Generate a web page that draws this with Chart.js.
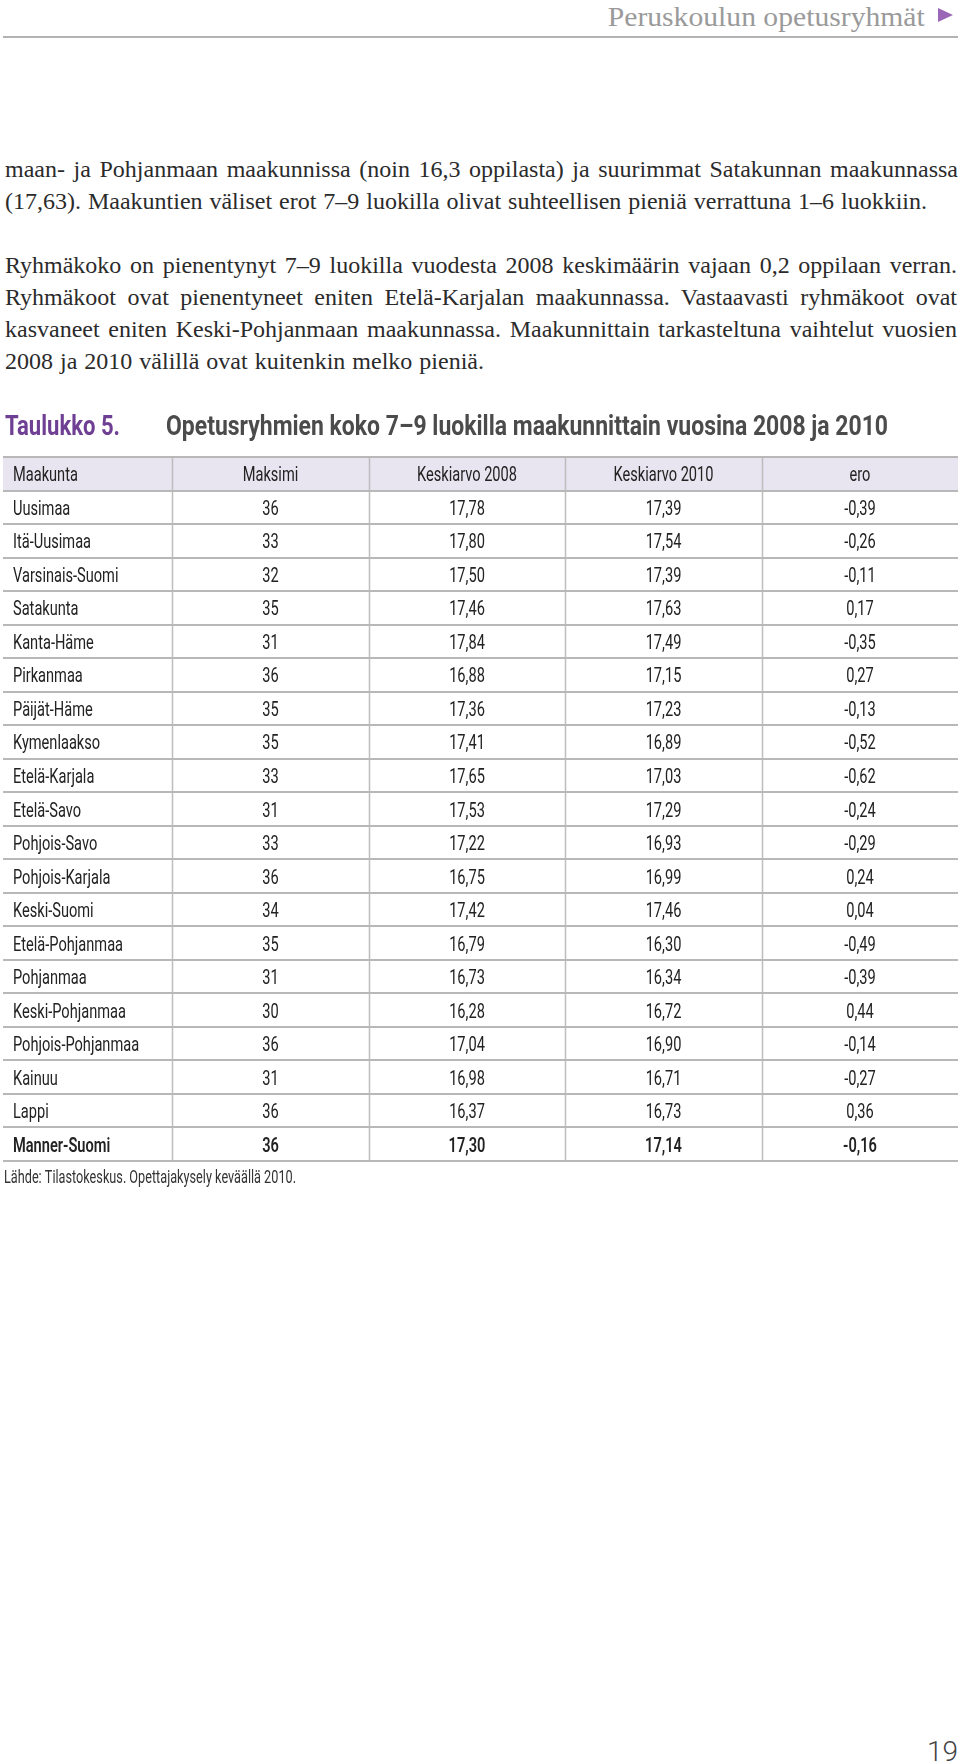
<!DOCTYPE html>
<html lang="fi">
<head>
<meta charset="utf-8">
<script src="https://cdn.jsdelivr.net/npm/chart.js@4.4.0/dist/chart.umd.min.js"></script>
<style>
  body { margin: 0; background: #fff; }
  #page { position: relative; width: 960px; height: 1764px; overflow: hidden; }
  .line {
    position: absolute; left: 5px; white-space: nowrap;
    font-family: "Liberation Serif", "DejaVu Serif", serif;
    font-size: 24px; line-height: 32px; color: #2b2b2b;
  }
  #runhead {
    position: absolute; right: 35px; top: 2px; white-space: nowrap;
    font-family: "Liberation Serif", "DejaVu Serif", serif;
    font-size: 27px; line-height: 30px; color: #9a9a9a;
    transform-origin: right center;
  }
  #arrow {
    position: absolute; left: 938px; top: 8px; width: 0; height: 0;
    border-left: 15px solid #9b68b8;
    border-top: 7.5px solid transparent; border-bottom: 7.5px solid transparent;
  }
  #rule { position: absolute; left: 3px; top: 36px; width: 955px; height: 2px; background: #b3b3b3; }
  #pageno {
    position: absolute; right: 2px; top: 1738px;
    font-family: Roboto, "Open Sans", sans-serif; font-weight: 300;
    font-size: 28px; line-height: 28px; color: #444;
  }
  #table { position: absolute; left: 0; top: 400px; }
</style>
</head>
<body>
<div id="page">
  <span id="runhead">Peruskoulun opetusryhmät</span>
  <div id="arrow"></div>
  <div id="rule"></div>

  <div class="line" data-w="953" data-b="177">maan- ja Pohjanmaan maakunnissa (noin 16,3 oppilasta) ja suurimmat Satakunnan maakunnassa</div>
  <div class="line" data-w="922" data-b="209">(17,63). Maakuntien väliset erot 7–9 luokilla olivat suhteellisen pieniä verrattuna 1–6 luokkiin.</div>
  <div class="line" data-w="952" data-b="273">Ryhmäkoko on pienentynyt 7–9 luokilla vuodesta 2008 keskimäärin vajaan 0,2 oppilaan verran.</div>
  <div class="line" data-w="952" data-b="305">Ryhmäkoot ovat pienentyneet eniten Etelä-Karjalan maakunnassa. Vastaavasti ryhmäkoot ovat</div>
  <div class="line" data-w="952" data-b="337">kasvaneet eniten Keski-Pohjanmaan maakunnassa. Maakunnittain tarkasteltuna vaihtelut vuosien</div>
  <div class="line" data-w="479" data-b="369">2008 ja 2010 välillä ovat kuitenkin melko pieniä.</div>

  <canvas id="table" width="960" height="800"></canvas>

  <span id="pageno">19</span>
</div>

<script>
'use strict'

// table content
const columns = ['Maakunta', 'Maksimi', 'Keskiarvo 2008', 'Keskiarvo 2010', 'ero'];
const regions = ['Uusimaa', 'Itä-Uusimaa', 'Varsinais-Suomi', 'Satakunta', 'Kanta-Häme', 'Pirkanmaa',
    'Päijät-Häme', 'Kymenlaakso', 'Etelä-Karjala', 'Etelä-Savo', 'Pohjois-Savo', 'Pohjois-Karjala',
    'Keski-Suomi', 'Etelä-Pohjanmaa', 'Pohjanmaa', 'Keski-Pohjanmaa', 'Pohjois-Pohjanmaa', 'Kainuu',
    'Lappi', 'Manner-Suomi'];
const maksimi = [36, 33, 32, 35, 31, 36, 35, 35, 33, 31, 33, 36, 34, 35, 31, 30, 36, 31, 36, 36];
const keskiarvo2008 = [17.78, 17.80, 17.50, 17.46, 17.84, 16.88, 17.36, 17.41, 17.65, 17.53, 17.22,
    16.75, 17.42, 16.79, 16.73, 16.28, 17.04, 16.98, 16.37, 17.30];
const keskiarvo2010 = [17.39, 17.54, 17.39, 17.63, 17.49, 17.15, 17.23, 16.89, 17.03, 17.29, 16.93,
    16.99, 17.46, 16.30, 16.34, 16.72, 16.90, 16.71, 16.73, 17.14];
const ero = [-0.39, -0.26, -0.11, 0.17, -0.35, 0.27, -0.13, -0.52, -0.62, -0.24, -0.29,
    0.24, 0.04, -0.49, -0.39, 0.44, -0.14, -0.27, 0.36, -0.16];

const titleLabel = 'Taulukko 5.';
const titleText = 'Opetusryhmien koko 7–9 luokilla maakunnittain vuosina 2008 ja 2010';
const sourceText = 'Lähde: Tilastokeskus. Opettajakysely keväällä 2010.';

// layout (x units of the table scale = px)
const colEdges = [0, 169, 366, 562, 759, 955];
const totalRow = regions.length - 1;

function fmt(v, d) {
    return v.toFixed(d).replace('.', ',');
}

// page text fitting
document.querySelectorAll('.line').forEach(el => {
    const target = +el.dataset.w;
    const spaces = (el.textContent.match(/ /g) || []).length;
    const natural = el.getBoundingClientRect().width;
    el.style.wordSpacing = ((target - natural) / spaces) + 'px';
    el.style.top = (+el.dataset.b - 24.1) + 'px';
});
const head = document.getElementById('runhead');
head.style.transform = 'scaleX(' + (317 / head.getBoundingClientRect().width) + ')';

function drawText(ctx, text, x, y, align, sx) {
    ctx.save();
    ctx.translate(x, y);
    ctx.scale(sx, 1);
    ctx.textAlign = align;
    ctx.fillText(text, 0, 0);
    ctx.restore();
}

function fitText(ctx, text, x, y, width) {
    const w = ctx.measureText(text).width;
    drawText(ctx, text, x, y, 'left', width / w);
}

const tablePlugin = {
    id: 'tablePlugin',
    afterDraw(chart) {
        const ctx = chart.ctx;
        const x = chart.scales.x;
        const y = chart.scales.y;
        const nRows = chart.data.labels.length;
        const rowH = Math.abs(y.getPixelForValue(1) - y.getPixelForValue(0));
        const left = x.getPixelForValue(0);
        const right = x.getPixelForValue(colEdges[colEdges.length - 1]);
        const top = y.getPixelForValue(0) - rowH / 2;
        const bottom = y.getPixelForValue(nRows - 1) + rowH / 2;

        ctx.save();
        // title
        ctx.textBaseline = 'alphabetic';
        ctx.font = 'bold 28px Roboto, "Open Sans", sans-serif';
        ctx.fillStyle = '#6e3f93';
        fitText(ctx, titleLabel, 5, top - 22, 115);
        ctx.fillStyle = '#4b4b4b';
        fitText(ctx, titleText, 166, top - 22, 722);

        // header band
        ctx.fillStyle = '#e9e5f0';
        ctx.fillRect(left, top, right - left, rowH);

        // vertical separators
        ctx.strokeStyle = '#bdbdbd';
        ctx.lineWidth = 1.5;
        for (let c = 1; c < colEdges.length - 1; c++) {
            const px = Math.round(x.getPixelForValue(colEdges[c])) + 0.5;
            ctx.beginPath();
            ctx.moveTo(px, top);
            ctx.lineTo(px, bottom);
            ctx.stroke();
        }
        // horizontal rules
        ctx.strokeStyle = '#b8b8b8';
        ctx.lineWidth = 2;
        for (let r = 0; r <= nRows; r++) {
            const py = Math.round(top + r * rowH);
            ctx.beginPath();
            ctx.moveTo(left, py);
            ctx.lineTo(right, py);
            ctx.stroke();
        }

        // cells
        const sx = 0.73;
        ctx.fillStyle = '#222';
        const colCenter = c => x.getPixelForValue((colEdges[c] + colEdges[c + 1]) / 2);
        for (let r = 0; r < nRows; r++) {
            const cy = y.getPixelForValue(r) + 7.5;
            let cells;
            if (r === 0) {
                cells = columns;
                ctx.font = '20px Roboto, "Open Sans", sans-serif';
            } else {
                const i = r - 1;
                cells = [regions[i], String(maksimi[i]), fmt(keskiarvo2008[i], 2), fmt(keskiarvo2010[i], 2), fmt(ero[i], 2)];
                ctx.font = (i === totalRow ? '600 ' : '') + '20px Roboto, "Open Sans", sans-serif';
            }
            drawText(ctx, cells[0], left + 10, cy, 'left', sx);
            for (let c = 1; c < cells.length; c++) {
                drawText(ctx, cells[c], colCenter(c), cy, 'center', sx);
            }
        }

        // source
        ctx.font = '19px Roboto, "Open Sans", sans-serif';
        ctx.fillStyle = '#333';
        fitText(ctx, sourceText, 4, bottom + 22, 292);
        ctx.restore();
    }
};

new Chart(document.getElementById('table'), {
    type: 'bar',
    data: {
        labels: [columns[0]].concat(regions),
        datasets: []
    },
    options: {
        indexAxis: 'y',
        responsive: false,
        animation: false,
        events: [],
        layout: { padding: { top: 57, bottom: 39, left: 3, right: 2 } },
        plugins: {
            legend: { display: false },
            tooltip: { enabled: false }
        },
        scales: {
            x: { type: 'linear', min: 0, max: 955, display: false },
            y: { type: 'category', offset: true, display: false }
        }
    },
    plugins: [tablePlugin]
});
</script>
</body>
</html>
